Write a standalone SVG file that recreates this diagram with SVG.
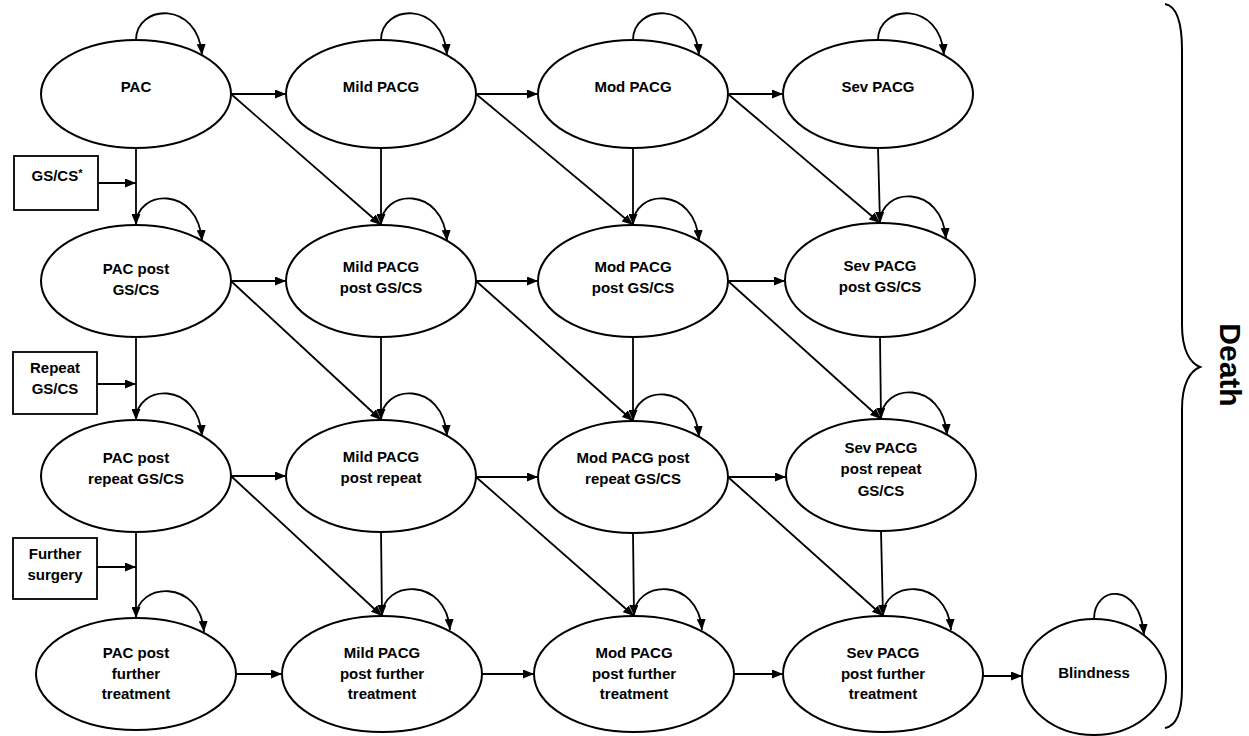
<svg xmlns="http://www.w3.org/2000/svg" width="1249" height="736" viewBox="0 0 1249 736">
<style>
.n{fill:#fff;stroke:#000;stroke-width:2}
.b{fill:#fff;stroke:#000;stroke-width:1.8}
.t{font-family:"Liberation Sans",Arial,Helvetica,sans-serif;font-weight:bold;font-size:15px;fill:#000;text-anchor:middle}
.c{fill:none;stroke:#000;stroke-width:1.8;marker-end:url(#ah)}
.d{font-family:"Liberation Sans",Arial,Helvetica,sans-serif;font-weight:bold;font-size:30px;fill:#000;text-anchor:middle}
</style>
<defs>
<marker id="ah" markerWidth="11" markerHeight="9" refX="11" refY="4.5" orient="auto" markerUnits="userSpaceOnUse"><path d="M0,0 L11,4.5 L0,9 z" fill="#000"/></marker>
</defs>
<rect width="1249" height="736" fill="#fff"/>

<g id="connectors">
<path class="c" d="M231,94 L286,94"/>
<path class="c" d="M476,94 L538,94"/>
<path class="c" d="M728,94 L783,94"/>
<path class="c" d="M231,281 L286,281"/>
<path class="c" d="M476,281 L538,281"/>
<path class="c" d="M728,281 L785,281"/>
<path class="c" d="M231,476 L286,476"/>
<path class="c" d="M476,477 L538,477"/>
<path class="c" d="M728,477 L786,477"/>
<path class="c" d="M236,674 L282,674"/>
<path class="c" d="M482,674 L534,674"/>
<path class="c" d="M734,674 L783,674"/>
<path class="c" d="M983,676 L1022,676"/>
<path class="c" d="M136,148 L136,225"/>
<path class="c" d="M136,337 L136,420"/>
<path class="c" d="M136,532 L136,618"/>
<path class="c" d="M381,148 L381,225"/>
<path class="c" d="M381,337 L381,420"/>
<path class="c" d="M381,532 L382,616"/>
<path class="c" d="M633,148 L633,225"/>
<path class="c" d="M633,337 L633,421"/>
<path class="c" d="M633,533 L634,616"/>
<path class="c" d="M878,148 L880,223"/>
<path class="c" d="M880,337 L881,419"/>
<path class="c" d="M881,531 L883,616"/>
<path class="c" d="M231,94 L381,225"/>
<path class="c" d="M476,94 L633,225"/>
<path class="c" d="M728,94 L880,223"/>
<path class="c" d="M231,281 L381,420"/>
<path class="c" d="M476,281 L633,421"/>
<path class="c" d="M728,281 L881,419"/>
<path class="c" d="M231,476 L382,616"/>
<path class="c" d="M476,477 L634,616"/>
<path class="c" d="M728,477 L883,616"/>
<path class="c" d="M98,183 L136,183"/>
<path class="c" d="M97,384 L136,384"/>
<path class="c" d="M97,567 L136,567"/>
<path class="c" d="M136,40 C136,4 198,0 202,55"/>
<path class="c" d="M381,40 C381,4 443,0 447,55"/>
<path class="c" d="M633,40 C633,4 695,0 699,55"/>
<path class="c" d="M878,40 C878,4 940,0 944,55"/>
<path class="c" d="M136,225 C136,189 198,185 202,241"/>
<path class="c" d="M381,225 C381,189 443,185 447,241"/>
<path class="c" d="M633,225 C633,189 695,185 699,241"/>
<path class="c" d="M880,223 C880,187 942,183 946,239"/>
<path class="c" d="M136,420 C136,384 198,380 202,436"/>
<path class="c" d="M381,420 C381,384 443,380 447,436"/>
<path class="c" d="M633,421 C633,385 695,381 699,437"/>
<path class="c" d="M881,419 C881,383 943,379 947,435"/>
<path class="c" d="M136,618 C136,582 200,578 204,632"/>
<path class="c" d="M382,616 C382,580 446,576 450,630"/>
<path class="c" d="M634,616 C634,580 698,576 702,630"/>
<path class="c" d="M883,616 C883,580 947,576 951,630"/>
<path class="c" d="M1094,619 C1094,585 1140,581 1144,635"/>
</g>

<g id="n11"><ellipse class="n" cx="136" cy="94" rx="95" ry="54"/><text class="t" x="136" y="92">PAC</text></g>
<g id="n12"><ellipse class="n" cx="381" cy="94" rx="95" ry="54"/><text class="t" x="381" y="92">Mild PACG</text></g>
<g id="n13"><ellipse class="n" cx="633" cy="94" rx="95" ry="54"/><text class="t" x="633" y="92">Mod PACG</text></g>
<g id="n14"><ellipse class="n" cx="878" cy="94" rx="95" ry="54"/><text class="t" x="878" y="92">Sev PACG</text></g>

<g id="n21"><ellipse class="n" cx="136" cy="281" rx="95" ry="56"/><text class="t" x="136" y="274">PAC post</text><text class="t" x="136" y="295">GS/CS</text></g>
<g id="n22"><ellipse class="n" cx="381" cy="281" rx="95" ry="56"/><text class="t" x="381" y="272">Mild PACG</text><text class="t" x="381" y="293">post GS/CS</text></g>
<g id="n23"><ellipse class="n" cx="633" cy="281" rx="95" ry="56"/><text class="t" x="633" y="272">Mod PACG</text><text class="t" x="633" y="293">post GS/CS</text></g>
<g id="n24"><ellipse class="n" cx="880" cy="280" rx="95" ry="57"/><text class="t" x="880" y="271">Sev PACG</text><text class="t" x="880" y="292">post GS/CS</text></g>

<g id="n31"><ellipse class="n" cx="136" cy="476" rx="95" ry="56"/><text class="t" x="136" y="463">PAC post</text><text class="t" x="136" y="484">repeat GS/CS</text></g>
<g id="n32"><ellipse class="n" cx="381" cy="476" rx="95" ry="56"/><text class="t" x="381" y="462">Mild PACG</text><text class="t" x="381" y="483">post repeat</text></g>
<g id="n33"><ellipse class="n" cx="633" cy="477" rx="95" ry="56"/><text class="t" x="633" y="463">Mod PACG post</text><text class="t" x="633" y="484">repeat GS/CS</text></g>
<g id="n34"><ellipse class="n" cx="881" cy="475" rx="95" ry="56"/><text class="t" x="881" y="453">Sev PACG</text><text class="t" x="881" y="474">post repeat</text><text class="t" x="881" y="496">GS/CS</text></g>

<g id="n41"><ellipse class="n" cx="136" cy="674" rx="100" ry="56"/><text class="t" x="136" y="658">PAC post</text><text class="t" x="136" y="679">further</text><text class="t" x="136" y="699">treatment</text></g>
<g id="n42"><ellipse class="n" cx="382" cy="674" rx="100" ry="58"/><text class="t" x="382" y="658">Mild PACG</text><text class="t" x="382" y="679">post further</text><text class="t" x="382" y="699">treatment</text></g>
<g id="n43"><ellipse class="n" cx="634" cy="674" rx="100" ry="58"/><text class="t" x="634" y="658">Mod PACG</text><text class="t" x="634" y="679">post further</text><text class="t" x="634" y="699">treatment</text></g>
<g id="n44"><ellipse class="n" cx="883" cy="674" rx="100" ry="58"/><text class="t" x="883" y="658">Sev PACG</text><text class="t" x="883" y="679">post further</text><text class="t" x="883" y="699">treatment</text></g>
<g id="n45"><ellipse class="n" cx="1094" cy="677" rx="72" ry="58"/><text class="t" x="1094" y="678">Blindness</text></g>

<g id="box1"><rect class="b" x="14" y="156" width="84" height="54"/><text class="t" x="57" y="181">GS/CS<tspan font-size="11" dy="-4">*</tspan></text></g>
<g id="box2"><rect class="b" x="13" y="352" width="84" height="62"/><text class="t" x="55" y="373">Repeat</text><text class="t" x="55" y="394">GS/CS</text></g>
<g id="box3"><rect class="b" x="13" y="538" width="84" height="61"/><text class="t" x="55" y="559">Further</text><text class="t" x="55" y="580">surgery</text></g>

<g id="death">
<path d="M1165,4 C1176,6 1182,20 1182,50 L1182,325 C1182,350 1190,363 1200,367 C1190,371 1182,384 1182,409 L1182,688 C1182,714 1176,726 1165,728" fill="none" stroke="#000" stroke-width="2"/>
<text class="d" transform="translate(1220,365) rotate(90)" x="0" y="0">Death</text>
</g>
</svg>
